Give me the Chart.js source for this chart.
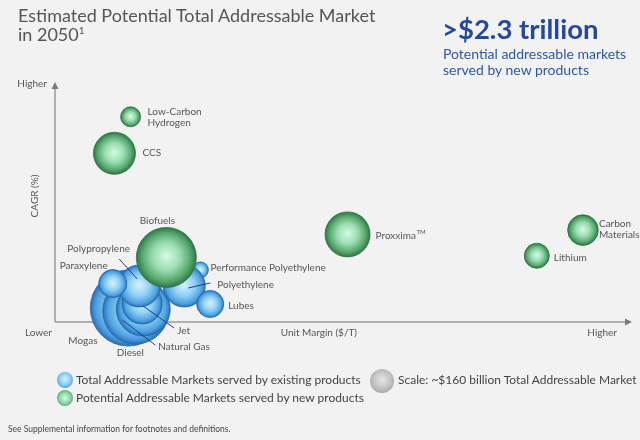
<!DOCTYPE html>
<html>
<head>
<meta charset="utf-8">
<script src="https://cdn.jsdelivr.net/npm/chart.js@4"></script>
<style>
  html, body { margin: 0; padding: 0; background: #f2f2f2; }
  #wrap { position: relative; width: 640px; height: 440px; overflow: hidden; font-family: Lato, "Noto Sans", sans-serif; }
  #chart { position: absolute; left: 0; top: 0; }
  .txt { position: absolute; white-space: nowrap; }
  #title { left: 18px; top: 6px; font-size: 18px; line-height: 19px; color: #555; }
  #title sup { font-size: 10px; vertical-align: 7px; line-height: 0; }
  #big { left: 442px; top: 12px; font-size: 27.5px; font-weight: 700; color: #24479f; }
  #sub { left: 443px; top: 46px; font-size: 14px; line-height: 16px; color: #2c56ad; }
  .dot { position: absolute; border-radius: 50%; }
  .blue { background: radial-gradient(circle at 50% 45%, #d8f3ff 0%, #8fd0f5 45%, #3d92d8 85%, #2667b0 100%); }
  .green { background: radial-gradient(circle at 50% 50%, #d6fbe6 0%, #8fd8a8 45%, #4a9c62 85%, #2f7445 100%); }
  .grey { background: radial-gradient(circle at 50% 45%, #e6e6e6 0%, #bdbdbd 55%, #8c8c8c 100%); }
  .leg { font-size: 12px; color: #444; line-height: 14px; }
  #foot { left: 8px; top: 424px; font-size: 8.5px; color: #444; }
</style>
</head>
<body>
<div id="wrap">
  <canvas id="chart" width="640" height="440"></canvas>
  <div id="title" class="txt">Estimated Potential Total Addressable Market<br>in 2050<sup>1</sup></div>
  <div id="big" class="txt">&gt;$2.3 trillion</div>
  <div id="sub" class="txt">Potential addressable markets<br>served by new products</div>

  <div class="dot blue" style="left:57px;top:372px;width:16px;height:16px;"></div>
  <div class="txt leg" style="left:76px;top:373px;">Total Addressable Markets served by existing products</div>
  <div class="dot grey" style="left:370px;top:369px;width:24px;height:24px;"></div>
  <div class="txt leg" style="left:398px;top:373px;">Scale: ~$160 billion Total Addressable Market</div>
  <div class="dot green" style="left:57px;top:390px;width:16px;height:16px;"></div>
  <div class="txt leg" style="left:76px;top:391px;">Potential Addressable Markets served by new products</div>
  <div id="foot" class="txt">See Supplemental information for footnotes and definitions.</div>
</div>
<script>
//new products (green)
const newNames = ["Low-Carbon Hydrogen", "CCS", "Biofuels", "Proxxima\u2122", "Lithium", "Carbon Materials"];
const newMargin = [13.1, 10.3, 19.3, 50.7, 83.5, 91.5];
const newCagr = [85.5, 70.3, 26.9, 36.5, 27.6, 38.3];
const newTam = [160, 706, 1440, 810, 250, 375];   // $ billion

//existing products (blue), drawn back to front
const oldNames = ["Mogas", "Diesel", "Natural Gas", "Jet", "Polypropylene", "Paraxylene", "Performance Polyethylene", "Polyethylene", "Lubes"];
const oldMargin = [12.7, 14.0, 15.3, 15.1, 14.6, 10.0, 25.2, 22.4, 26.9];
const oldCagr = [5.8, 4.6, 5.4, 7.5, 15.0, 16.0, 21.7, 15.0, 7.5];
const oldTam = [2310, 1742, 1166, 640, 706, 314, 102, 706, 292];

//scale bubble: ~$160 billion -> radius 10px
const SCALE_TAM = 160;
const SCALE_R = 10;
function tamToR(v) { return SCALE_R * Math.sqrt(v / SCALE_TAM); }

function toPoints(xs, ys, sizes) {
  return xs.map((x, i) => ({ x: x, y: ys[i], r: tamToR(sizes[i]) }));
}

//label placement: offset from bubble centre, optional leader line
const newLabels = [
  { dx: 17, dy: -5, lines: ["Low-Carbon", "Hydrogen"] },
  { dx: 28, dy: 0 },
  { dx: -9, dy: -37, align: "center" },
  { dx: 28, dy: 1 },
  { dx: 17, dy: 2 },
  { dx: 16, dy: -6, lines: ["Carbon", "Materials"] }
];
const oldLabels = [
  { dx: -60, dy: 33 },
  { dx: -19, dy: 42 },
  { dx: 15, dy: 38, lead: [-21, 11, 12, 36] },
  { dx: 35, dy: 27, lead: [1, 2, 32, 24] },
  { dx: -72, dy: -37, lead: [-20, -27, -2, -7] },
  { dx: -53, dy: -18 },
  { dx: 10, dy: -2 },
  { dx: 33, dy: -1, lead: [4, 2, 26, -3] },
  { dx: 18, dy: 2 }
];

function bubbleFill(stops) {
  return function(ctx) {
    const chart = ctx.chart;
    if (!chart.chartArea || ctx.raw === undefined) return stops[2][1];
    const x = chart.scales.x.getPixelForValue(ctx.raw.x);
    const y = chart.scales.y.getPixelForValue(ctx.raw.y);
    const r = ctx.raw.r;
    const g = chart.ctx.createRadialGradient(x, y - r * 0.05, 0, x, y, r);
    stops.forEach(s => g.addColorStop(s[0], s[1]));
    return g;
  };
}

const greenStops = [[0, "#d4fbe5"], [0.45, "#9bddb2"], [0.8, "#57a86e"], [1, "#2f7747"]];
const blueStops = [[0, "#d6f3ff"], [0.5, "#90d0f4"], [0.86, "#4b9fdf"], [1, "#2a6db6"]];

const FONT = "Lato, 'Noto Sans', sans-serif";

const decor = {
  id: "decor",
  beforeDatasetsDraw(chart) {
    const c = chart.ctx;
    const a = chart.chartArea;
    c.save();
    c.strokeStyle = "#9a9a9a";
    c.fillStyle = "#7a7a7a";
    c.lineWidth = 1.5;
    c.beginPath();
    c.moveTo(a.left, a.bottom);
    c.lineTo(a.left, a.top + 6);
    c.moveTo(a.left, a.bottom);
    c.lineTo(a.right - 6, a.bottom);
    c.stroke();
    //arrow heads
    c.beginPath();
    c.moveTo(a.left, a.top);
    c.lineTo(a.left - 3.5, a.top + 7);
    c.lineTo(a.left + 3.5, a.top + 7);
    c.fill();
    c.beginPath();
    c.moveTo(a.right, a.bottom);
    c.lineTo(a.right - 7, a.bottom - 3.5);
    c.lineTo(a.right - 7, a.bottom + 3.5);
    c.fill();
    //axis texts
    c.fillStyle = "#555";
    c.font = "10px " + FONT;
    c.textBaseline = "middle";
    c.textAlign = "right";
    c.fillText("Higher", a.left - 8, a.top + 2);
    c.fillText("Lower", a.left - 3, a.bottom + 11);
    c.fillText("Unit Margin ($/T)", 357, a.bottom + 11);
    c.fillText("Higher", 617, a.bottom + 11);
    c.translate(35, 196);
    c.rotate(-Math.PI / 2);
    c.textAlign = "center";
    c.fillText("CAGR (%)", 0, 0);
    c.restore();
  },
  afterDatasetsDraw(chart) {
    const c = chart.ctx;
    const sx = chart.scales.x, sy = chart.scales.y;
    c.save();
    c.font = "10px " + FONT;
    c.fillStyle = "#555";
    c.textBaseline = "middle";
    function put(names, xs, ys, layout) {
      names.forEach((n, i) => {
        const px = sx.getPixelForValue(xs[i]);
        const py = sy.getPixelForValue(ys[i]);
        const L = layout[i];
        if (L.lead) {
          c.strokeStyle = "#1d3f86";
          c.lineWidth = 1;
          c.beginPath();
          c.moveTo(px + L.lead[0], py + L.lead[1]);
          c.lineTo(px + L.lead[2], py + L.lead[3]);
          c.stroke();
        }
        c.textAlign = L.align || "left";
        const lines = L.lines || [n];
        lines.forEach((t, k) => {
          if (t.endsWith("\u2122")) {
            const base = t.slice(0, -1);
            c.fillText(base, px + L.dx, py + L.dy + k * 11);
            const w = c.measureText(base).width;
            c.font = "6px " + FONT;
            c.fillText("TM", px + L.dx + w + 0.5, py + L.dy - 3);
            c.font = "10px " + FONT;
          } else {
            c.fillText(t, px + L.dx, py + L.dy + k * 11);
          }
        });
      });
    }
    put(newNames, newMargin, newCagr, newLabels);
    put(oldNames, oldMargin, oldCagr, oldLabels);
    c.restore();
  }
};

new Chart(document.getElementById("chart"), {
  type: "bubble",
  data: {
    datasets: [
      {
        label: "Potential Addressable Markets served by new products",
        data: toPoints(newMargin, newCagr, newTam),
        backgroundColor: bubbleFill(greenStops),
        borderColor: "#2d7042",
        borderWidth: 0.8,
        clip: false
      },
      {
        label: "Total Addressable Markets served by existing products",
        data: toPoints(oldMargin, oldCagr, oldTam),
        backgroundColor: bubbleFill(blueStops),
        borderColor: "#2363ab",
        borderWidth: 0.8,
        clip: false
      }
    ]
  },
  options: {
    responsive: false,
    animation: false,
    events: [],
    layout: { autoPadding: false, padding: { left: 55, right: 8, top: 82, bottom: 118 } },
    plugins: { legend: { display: false }, tooltip: { enabled: false } },
    scales: {
      x: { type: "linear", min: 0, max: 100, display: false },
      y: { type: "linear", min: 0, max: 100, display: false }
    }
  },
  plugins: [decor]
});
</script>
</body>
</html>
